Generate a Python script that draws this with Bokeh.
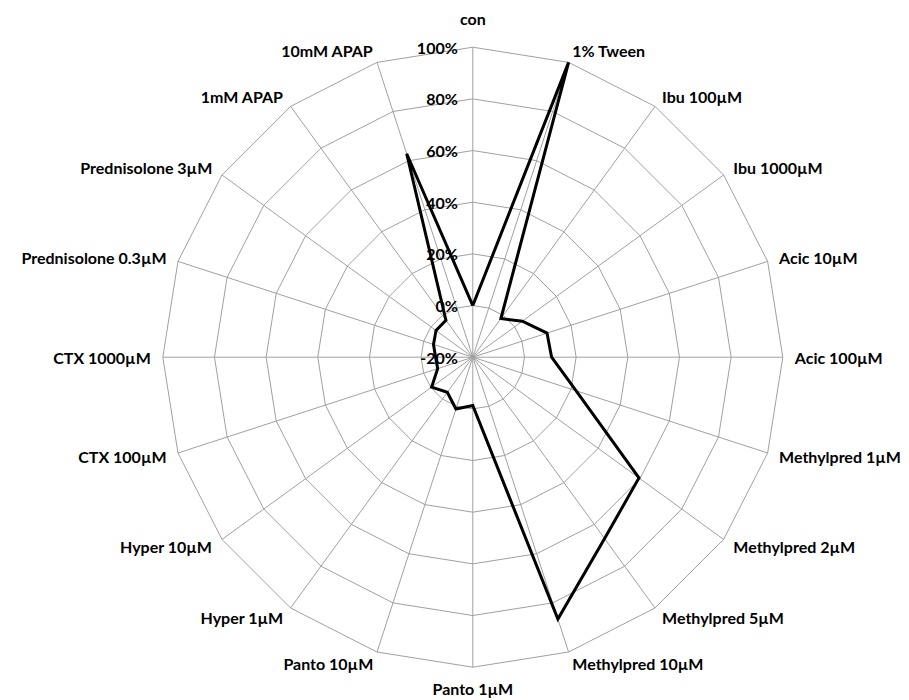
import numpy as np
from bokeh.plotting import figure
from bokeh.models import Range1d
from bokeh.core.properties import value
from bokeh.embed import file_html
from bokeh.resources import INLINE

categories = ["con", "1% Tween", "Ibu 100µM", "Ibu 1000µM", "Acic 10µM", "Acic 100µM",
              "Methylpred 1µM", "Methylpred 2µM", "Methylpred 5µM", "Methylpred 10µM",
              "Panto 1µM", "Panto 10µM", "Hyper 1µM", "Hyper 10µM", "CTX 100µM",
              "CTX 1000µM", "Prednisolone 0.3µM", "Prednisolone 3µM", "1mM APAP", "10mM APAP"]
values = [0, 100, -1.5, 3.7, 10.2, 10.5, 22, 59.5, 66.8, 86.6,
          -1.3, 1.1, -3.2, -0.3, -5.7, -5.6, -4.0, -2.4, -2.3, 62.8]
ticks = [-20, 0, 20, 40, 60, 80, 100]
tick_labels = ["-20%", "0%", "20%", "40%", "60%", "80%", "100%"]

FONT = "Lato"
FS = "16px"
W, H = 909, 700
R_PX = 310.0
rmin, rmax = ticks[0], ticks[-1]
span = rmax - rmin
scale = R_PX / span  # px per unit
cx_px, cy_px = 472.3, 356.7  # center in figure pixels (from top-left)

p = figure(width=W, height=H, output_backend="svg", toolbar_location=None,
           min_border=0, outline_line_color=None)
p.x_range = Range1d(-cx_px / scale, (W - cx_px) / scale)
p.y_range = Range1d(-(H - cy_px) / scale, cy_px / scale)
p.axis.visible = False
p.grid.visible = False
p.background_fill_color = "white"
p.border_fill_color = "white"

n = len(categories)
ang = np.arange(n) * 2 * np.pi / n  # clockwise from top
sx, sy = np.sin(ang), np.cos(ang)

grid_color = "#a0a0a0"
# rings
for t in ticks[1:]:
    r = t - rmin
    xs = list(r * sx) + [r * sx[0]]
    ys = list(r * sy) + [r * sy[0]]
    p.line(xs, ys, line_color=grid_color, line_width=1)
# spokes
R = span
p.segment(x0=np.zeros(n), y0=np.zeros(n), x1=R * sx, y1=R * sy,
          line_color=grid_color, line_width=1)

# data
rv = np.array(values) - rmin
dx = list(rv * sx) + [rv[0] * sx[0]]
dy = list(rv * sy) + [rv[0] * sy[0]]
p.line(dx, dy, line_color="black", line_width=3, line_join="miter")

# tick labels
p.text(x=[-15 / scale] * len(ticks), y=[t - rmin for t in ticks], text=tick_labels,
       text_align="right", text_baseline="middle", text_font=value(FONT),
       text_font_style="bold", text_font_size=FS, text_color="black")

# category labels
lx, ly, la, lb = [], [], [], []
for i in range(n):
    s, c = sx[i], sy[i]
    if abs(s) < 0.01:
        off = (19 if c > 0 else 12) / scale
        la.append("center")
        lb.append("bottom" if c > 0 else "top")
    else:
        off = 12 / scale
        la.append("left" if s > 0 else "right")
        lb.append("middle")
    lx.append((R + off) * s)
    ly.append((R + off) * c)
for i in range(n):
    p.text(x=[lx[i]], y=[ly[i]], text=[categories[i]], text_align=la[i],
           text_baseline=lb[i], text_font=value(FONT), text_font_style="bold",
           text_font_size=FS, text_color="black")

open("out.html", "w").write(file_html(p, INLINE))
